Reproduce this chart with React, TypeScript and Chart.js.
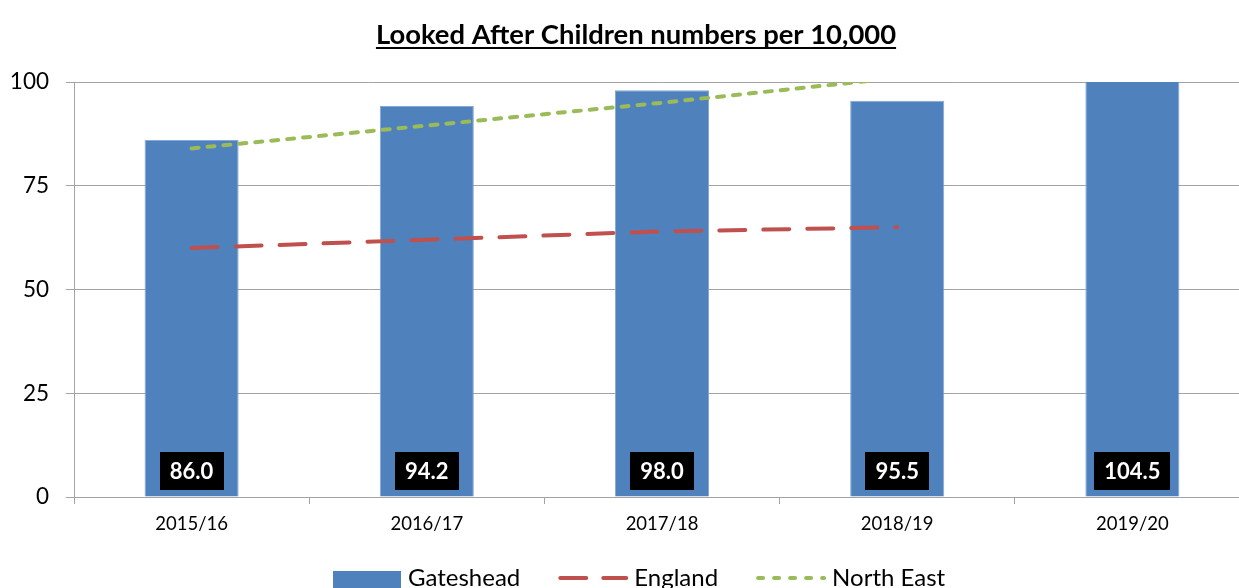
import { useEffect, useRef } from "react";
import { Chart, registerables } from "chart.js";

Chart.register(...registerables);

const categories = ["2015/16", "2016/17", "2017/18", "2018/19", "2019/20"];
const gateshead = [86.0, 94.2, 98.0, 95.5, 104.5];
const england: (number | null)[] = [60, 62, 64, 65, null];
const northEast: (number | null)[] = [84, 89.5, 95, 101, null];
const yMin = 0;
const yMax = 100;
const yStep = 25;
const titleText = "Looked After Children numbers per 10,000";
const seriesNames = ["Gateshead", "England", "North East"];

const FONT = "Lato, 'Open Sans', sans-serif";
const BAR = "#4F81BD";
const RED = "#C0504D";
const GREEN = "#9BBB59";
const GRID = "#a3a3a3";

const customPlugin = {
  id: "customDraw",
  afterDatasetsDraw(chart: any) {
    const { ctx, chartArea } = chart;
    const meta = chart.getDatasetMeta(0);
    ctx.save();
    ctx.font = `bold 22px ${FONT}`;
    meta.data.forEach((bar: any, i: number) => {
      const txt = gateshead[i].toFixed(1);
      const w = ctx.measureText(txt).width + 20;
      const h = 38;
      const y = chartArea.bottom - 7 - h;
      ctx.fillStyle = "#000";
      ctx.fillRect(Math.round(bar.x - w / 2), y, Math.round(w), h);
      ctx.fillStyle = "#fff";
      ctx.textAlign = "center";
      ctx.textBaseline = "middle";
      ctx.fillText(txt, bar.x, y + h / 2 + 1);
    });
    ctx.restore();
  },
  afterDraw(chart: any) {
    const { ctx } = chart;
    ctx.save();
    // Title
    ctx.font = `bold 27.4px ${FONT}`;
    ctx.fillStyle = "#000";
    ctx.textAlign = "center";
    ctx.textBaseline = "alphabetic";
    const tx = 636;
    const ty = 44;
    ctx.fillText(titleText, tx, ty);
    const tw = ctx.measureText(titleText).width;
    ctx.fillRect(tx - tw / 2, ty + 3, tw, 2);

    // Legend
    const ly = 578;
    ctx.font = `24px ${FONT}`;
    ctx.textAlign = "left";
    ctx.textBaseline = "alphabetic";
    let x = 333;
    ctx.fillStyle = BAR;
    ctx.fillRect(x, 571, 68, 22);
    x += 75;
    ctx.fillStyle = "#000";
    ctx.fillText(seriesNames[0], x, 586);
    x += ctx.measureText(seriesNames[0]).width + 38;

    ctx.lineWidth = 4;
    ctx.lineCap = "round";
    ctx.strokeStyle = RED;
    ctx.setLineDash([26, 17]);
    ctx.beginPath();
    ctx.moveTo(x + 2, ly);
    ctx.lineTo(x + 68, ly);
    ctx.stroke();
    x += 76;
    ctx.fillText(seriesNames[1], x, 586);
    x += ctx.measureText(seriesNames[1]).width + 38;

    ctx.strokeStyle = GREEN;
    ctx.setLineDash([5, 11]);
    ctx.beginPath();
    ctx.moveTo(x + 2, ly);
    ctx.lineTo(x + 68, ly);
    ctx.stroke();
    ctx.setLineDash([]);
    x += 76;
    ctx.fillText(seriesNames[2], x, 586);
    ctx.restore();
  },
};

export default function App() {
  const canvasRef = useRef<HTMLCanvasElement | null>(null);

  useEffect(() => {
    const canvas = canvasRef.current;
    if (!canvas) return;
    const chart = new Chart(canvas, {
      type: "bar",
      data: {
        labels: categories,
        datasets: [
          {
            type: "bar",
            label: seriesNames[0],
            data: gateshead,
            backgroundColor: BAR,
            borderColor: "#86a8d6",
            borderWidth: 1,
            barPercentage: 0.4,
            categoryPercentage: 1,
            clip: 0,
            order: 2,
          } as any,
          {
            type: "line",
            label: seriesNames[1],
            data: england,
            borderColor: RED,
            backgroundColor: RED,
            borderWidth: 4,
            borderDash: [26, 18],
            borderCapStyle: "round",
            pointRadius: 0,
            tension: 0,
            fill: false,
            order: 1,
          } as any,
          {
            type: "line",
            label: seriesNames[2],
            data: northEast,
            borderColor: GREEN,
            backgroundColor: GREEN,
            borderWidth: 4,
            borderDash: [7, 9],
            borderCapStyle: "round",
            pointRadius: 0,
            tension: 0,
            fill: false,
            order: 0,
          } as any,
        ],
      },
      options: {
        responsive: false,
        animation: false,
        devicePixelRatio: 1,
        layout: { padding: { top: 82, right: 12, left: 0, bottom: 0 } },
        plugins: {
          legend: { display: false },
          title: { display: false },
          tooltip: { enabled: false },
        },
        scales: {
          x: {
            type: "category",
            offset: true,
            grid: {
              display: true,
              offset: true,
              drawOnChartArea: false,
              drawTicks: true,
              tickLength: 7,
              color: GRID,
            },
            border: { display: true, color: GRID },
            ticks: {
              color: "#000",
              font: { family: FONT, size: 18.5 },
              padding: 9,
              maxRotation: 0,
              autoSkip: false,
            },
            afterFit: (scale: any) => {
              scale.height = 91;
            },
          },
          y: {
            min: yMin,
            max: yMax,
            ticks: {
              stepSize: yStep,
              color: "#000",
              font: { family: FONT, size: 22.5 },
              padding: 17,
            },
            grid: { color: GRID, tickLength: 8, lineWidth: 1 },
            border: { display: true, color: GRID },
            afterFit: (scale: any) => {
              scale.width = 74;
            },
          },
        },
      },
      plugins: [customPlugin],
    });
    return () => chart.destroy();
  }, []);

  return (
    <div
      style={{
        position: "absolute",
        left: 0,
        top: 0,
        width: 1239,
        height: 588,
        overflow: "hidden",
        background: "#fff",
      }}
    >
      <canvas ref={canvasRef} width={1262} height={588} style={{ display: "block" }} />
    </div>
  );
}
